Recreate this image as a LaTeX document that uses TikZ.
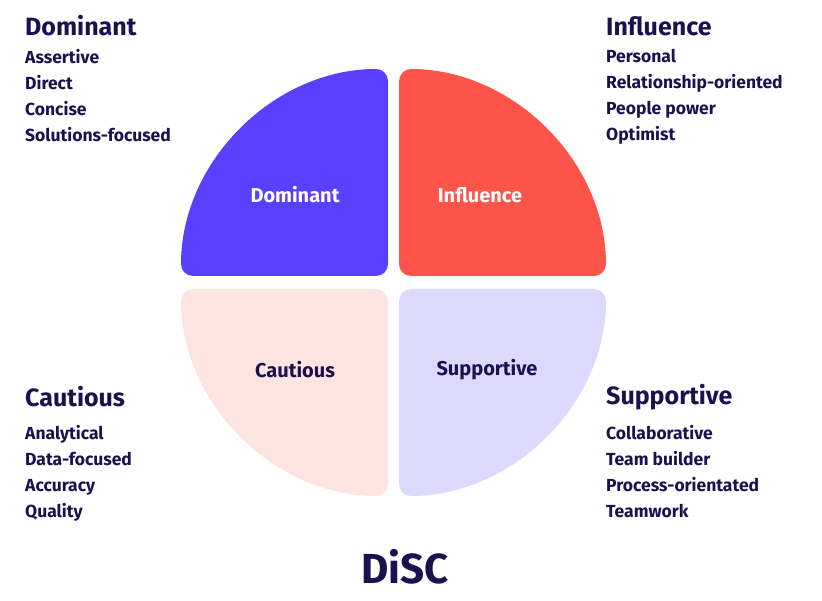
\documentclass[tikz,border=0pt]{standalone}
\usepackage{fontspec}
\setmainfont{Fira Sans}
\definecolor{ink}{HTML}{1B1150}
\definecolor{dom}{HTML}{5B3FFF}
\definecolor{inf}{HTML}{FF5449}
\definecolor{cau}{HTML}{FDE4E1}
\definecolor{sup}{HTML}{DCD9FD}
\begin{document}
\begin{tikzpicture}[x=1pt,y=1pt,
  quad/.style={rounded corners=12pt},
  head/.style={anchor=west,inner sep=0,text=ink,font=\fontsize{25}{30}\selectfont\bfseries},
  item/.style={anchor=north west,inner sep=0,text=ink,align=left,font=\fontsize{17.5}{26}\selectfont\bfseries},
  qlab/.style={inner sep=0,font=\fontsize{20}{24}\selectfont\bfseries}]
\useasboundingbox (0,0) rectangle (822,600);
\fill[dom,quad] (388,324) -- (181,324) arc(180:90:207) -- cycle;
\fill[inf,quad] (399,324) -- (399,531) arc(90:0:207) -- cycle;
\fill[cau,quad] (388,311) -- (181,311) arc(180:270:207) -- cycle;
\fill[sup,quad] (399,311) -- (606,311) arc(0:-90:207) -- cycle;
\node[qlab,text=white] (qd) at (295,405) {Dominant};
\node[qlab,text=white] (qi) at (480,405) {Influence};
\node[qlab,text=ink] (qc) at (295,230) {Cautious};
\node[qlab,text=ink] (qs) at (487,230) {Supportive};
\node[head] (hd) at (25,574) {Dominant};
\node[item] (ld) at (25,551) {Assertive\\Direct\\Concise\\Solutions-focused};
\node[head] (hi) at (606,574) {Influence};
\node[item] (li) at (606,551) {Personal\\Relationship-oriented\\People power\\Optimist};
\node[head] (hc) at (25,203) {Cautious};
\node[item] (lc) at (25,175) {Analytical\\Data-focused\\Accuracy\\Quality};
\node[head] (hs) at (606,203) {Supportive};
\node[item] (ls) at (606,175) {Collaborative\\Team builder\\Process-orientated\\Teamwork};
\node[inner sep=0,text=ink,font=\fontsize{42}{48}\selectfont\bfseries] (disc) at (405,33) {DiSC};
\end{tikzpicture}
\end{document}
